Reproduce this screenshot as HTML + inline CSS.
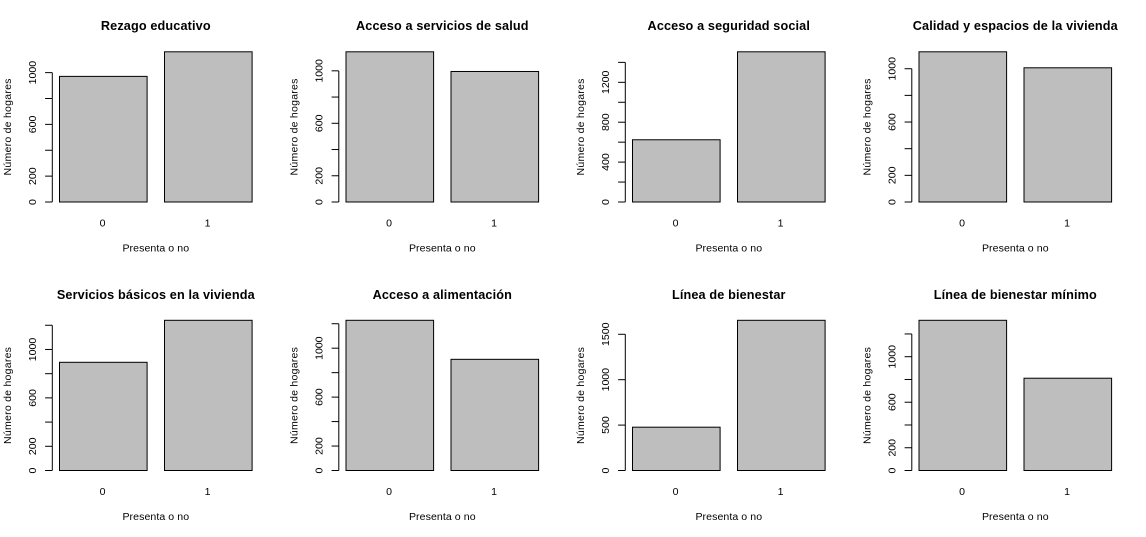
<!DOCTYPE html>
<html lang="es">
<head>
<meta charset="utf-8">
<title>Carencias por hogar</title>
<style>
  html, body { margin: 0; padding: 0; background: #fff; width: 1146px; height: 537px; overflow: hidden; }
  svg { display: block; }
  text { font-family: "Liberation Sans", sans-serif; fill: #000; }
  .main-title { font-size: 12.67px; font-weight: bold; text-anchor: middle; letter-spacing: 0.14px; }
  .lab { font-size: 10.56px; text-anchor: middle; }
  .x-title { letter-spacing: 0.08px; }
  .y-title { letter-spacing: 0.23px; }
</style>
</head>
<body>
<svg id="chart" xmlns="http://www.w3.org/2000/svg" width="1146" height="537" viewBox="0 0 1146 537"></svg>
<script>
const titles = ["Rezago educativo", "Acceso a servicios de salud", "Acceso a seguridad social", "Calidad y espacios de la vivienda", "Servicios básicos en la vivienda", "Acceso a alimentación", "Línea de bienestar", "Línea de bienestar mínimo"];
const categories = ["0", "1"];
const valuesCategory0 = [971, 1145, 624, 1127, 894, 1228, 477, 1320];
const valuesCategory1 = [1161, 995, 1506, 1007, 1241, 909, 1654, 811];
const yTicks = [
  [0, 200, 400, 600, 800, 1000],
  [0, 200, 400, 600, 800, 1000],
  [0, 200, 400, 600, 800, 1000, 1200, 1400],
  [0, 200, 400, 600, 800, 1000],
  [0, 200, 400, 600, 800, 1000, 1200],
  [0, 200, 400, 600, 800, 1000, 1200],
  [0, 500, 1000, 1500],
  [0, 200, 400, 600, 800, 1000, 1200]
];
const yTickLabels = [
  ["0", "200", "600", "1000"],
  ["0", "200", "600", "1000"],
  ["0", "400", "800", "1200"],
  ["0", "200", "600", "1000"],
  ["0", "200", "600", "1000"],
  ["0", "200", "600", "1000"],
  ["0", "500", "1000", "1500"],
  ["0", "200", "600", "1000"]
];
const xAxisTitle = "Presenta o no";
const yAxisTitle = "Número de hogares";

const NS = "http://www.w3.org/2000/svg";
const svg = document.getElementById("chart");
const PANEL_W = 286.5, PANEL_H = 268.5, COLS = 4;
const AXIS_X = 52.3, BARS_X = 59.5, BAR_W = 87.6, BAR_GAP = 17.4;
const BASE_Y = 202, PLOT_H = 150.2;

function make(tag, parent, attrs, text) {
  const el = document.createElementNS(NS, tag);
  for (const k in attrs) el.setAttribute(k, attrs[k]);
  if (text !== undefined) el.textContent = text;
  parent.appendChild(el);
  return el;
}

titles.forEach(function (title, p) {
  const ox = (p % COLS) * PANEL_W;
  const oy = Math.floor(p / COLS) * PANEL_H;
  const vals = [valuesCategory0[p], valuesCategory1[p]];
  const maxV = Math.max(vals[0], vals[1]);
  const yScale = function (v) { return oy + BASE_Y - v / maxV * PLOT_H; };
  const xScale = function (i) { return ox + BARS_X + i * (BAR_W + BAR_GAP); };
  const centerX = ox + BARS_X + BAR_W + BAR_GAP / 2;

  const g = make("g", svg, {});
  
  

  const t = make("text", g, { class: "main-title", x: centerX, y: Math.ceil(oy + 30) }, title);
  
  

  vals.forEach(function (v, i) {
    const r = make("rect", g, {
      x: xScale(i), y: yScale(v), width: BAR_W, height: yScale(0) - yScale(v),
      fill: "#bebebe", stroke: "#000", "stroke-width": 1
    });
    
    

    const c = make("text", g, { class: "lab", x: xScale(i) + BAR_W / 2 - 0.8, y: oy + 226.5 }, categories[i]);
    
    
  });

  const ticks = yTicks[p];
  const ax = make("line", g, {
    x1: ox + AXIS_X, x2: ox + AXIS_X,
    y1: yScale(ticks[0]), y2: yScale(ticks[ticks.length - 1]),
    stroke: "#000", "stroke-width": 1
  });
  
  

  ticks.forEach(function (v) {
    const tk = make("line", g, {
      x1: ox + AXIS_X - 7.2, x2: ox + AXIS_X,
      y1: yScale(v), y2: yScale(v),
      stroke: "#000", "stroke-width": 1
    });
    
    
  });

  yTickLabels[p].forEach(function (label) {
    const lx = ox + AXIS_X - 16.3;
    const ly = yScale(Number(label));
    const l = make("text", g, { class: "lab", x: lx, y: ly, transform: "rotate(-90 " + lx + " " + ly + ")" }, label);
    
    
  });

  const xt = make("text", g, { class: "lab x-title", x: centerX, y: oy + 251.5 }, xAxisTitle);
  
  

  const yx = ox + AXIS_X - 41.3;
  const yy = oy + BASE_Y - PLOT_H / 2;
  const yt = make("text", g, { class: "lab y-title", x: yx, y: yy, transform: "rotate(-90 " + yx + " " + yy + ")" }, yAxisTitle);
  
  
});
</script>
</body>
</html>
